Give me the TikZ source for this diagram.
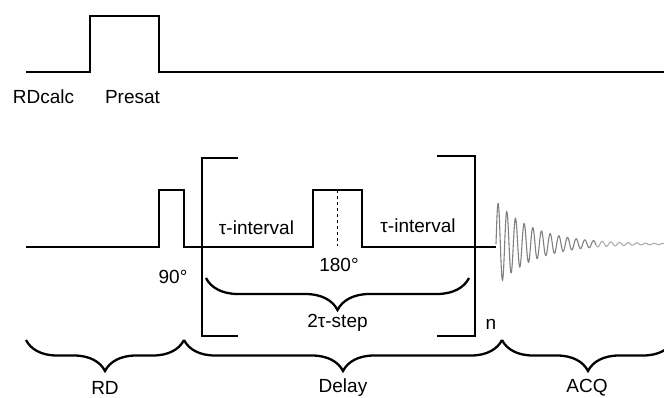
\documentclass[tikz,border=0pt]{standalone}
\usepackage{fontspec}
\setmainfont{Liberation Sans}
\usetikzlibrary{decorations.pathreplacing}
\tikzset{
  pulse/.style={line width=2.3pt, line join=miter},
  bracket/.style={line width=2.3pt},
  curly/.style={line width=2.3pt, decorate, decoration={brace, mirror, amplitude=#1}},
  label/.style={inner sep=0pt, font=\fontsize{19}{21}\selectfont},
  fid/.style={gray, line width=1.1pt}
}
\begin{document}
\begin{tikzpicture}[x=1pt, y=-1pt]
\clip (0,0) rectangle (664,397);

% pulse trains
\draw[pulse] (26,72) -- (90,72) -- (90,16) -- (159,16) -- (159,72) -- (664,72);
\draw[pulse] (26,247) -- (159,247) -- (159,190) -- (184,190) -- (184,247) -- (313,247) -- (313,190) -- (362,190) -- (362,247) -- (496,247);
\draw[dashed, line width=0.6pt] (337.5,190) -- (337.5,246);

% brackets
\draw[bracket] (238,158) -- (202,158) -- (202,336) -- (238,336);
\draw[bracket] (437,156) -- (475,156) -- (475,336) -- (437,336);

% decay
\draw[fid] plot[domain=0:100, samples=400] ({496+\x},{244-43*exp(-\x/38)*sin(41.52*\x)});
\draw[fid, gray!65] plot[domain=100:168, samples=250] ({496+\x},{244-43*exp(-\x/38)*sin(41.52*\x)});

% braces
\coordinate (stepL) at (206,278);
\coordinate (stepR) at (469,278);
\coordinate (rdL) at (26,340);
\coordinate (rdR) at (184,340);
\coordinate (delayR) at (502,340);
\coordinate (acqR) at (674,340);
\draw[curly=32] (stepL) -- (stepR);
\draw[curly=31] (rdL) -- (rdR);
\draw[curly=31] (rdR) -- (delayR);
\draw[curly=31] (delayR) -- (acqR);

% labels
\node[label] (rdcalc) at (43.5,97) {RDcalc};
\node[label] (presat) at (132.5,97) {Presat};
\node[label] (tauL) at (256.5,228) {τ-interval};
\node[label] (tauR) at (418,226) {τ-interval};
\node[label] (ninety) at (173,277) {90°};
\node[label] (oneeighty) at (339,265) {180°};
\node[label] (twotau) at (337.5,323) {2τ-step};
\node[label] (repeat) at (491,324) {n};
\node[label] (rd) at (105,388) {RD};
\node[label] (delay) at (343,388) {Delay};
\node[label] (acq) at (587,388) {ACQ};
\end{tikzpicture}
\end{document}
